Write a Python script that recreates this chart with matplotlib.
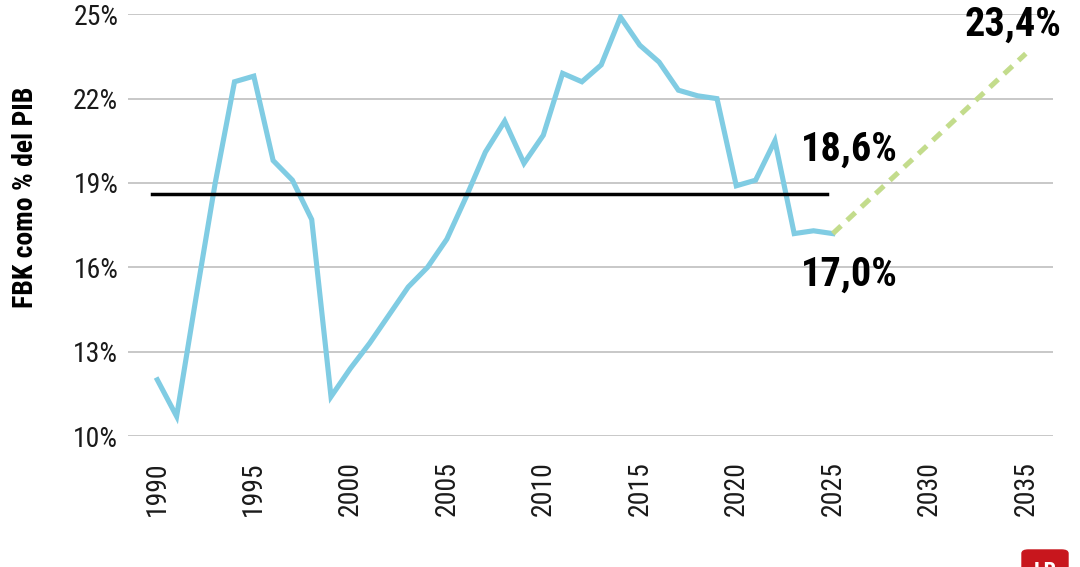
import matplotlib
matplotlib.use('Agg')
from matplotlib import pyplot as plt
from matplotlib.patches import FancyBboxPatch

# datos
years = list(range(1990, 2026))
fbk = [12.0, 10.7, 14.9, 19.0, 22.6, 22.8, 19.8, 19.1, 17.7, 11.4,
       12.4, 13.3, 14.3, 15.3, 16.0, 17.0, 18.5, 20.1, 21.2, 19.7,
       20.7, 22.9, 22.6, 23.2, 24.9, 23.9, 23.3, 22.3, 22.1, 22.0,
       18.9, 19.1, 20.5, 17.2, 17.3, 17.2]
proj_years = [2025, 2035]
proj_vals = [17.2, 23.6]
avg_years = [1989.75, 2024.7]
avg_val = 18.6
y_ticks = [10, 13, 16, 19, 22, 25]
x_ticks = [1990, 1995, 2000, 2005, 2010, 2015, 2020, 2025, 2030, 2035]
labels = ['18,6%', '17,0%', '23,4%']
label_pos = [(2023.34, 19.78), (2023.34, 15.33), (2031.84, 24.23)]

plt.rcParams['font.family'] = ['Roboto Condensed', 'DejaVu Sans']
plt.rcParams['font.stretch'] = 'condensed'

fig = plt.figure(figsize=(10.8, 5.67), dpi=100)
ax = fig.add_axes([0.1185, 0.231, 0.8565, 0.7438])

for t in y_ticks:
    ax.axhline(t, color='#c4c4c4', lw=1.3, zorder=1)

ax.plot(years, fbk, color='#80cce3', lw=3.7, solid_joinstyle='miter', zorder=3)
ax.plot(avg_years, [avg_val, avg_val], color='black', lw=2.5, zorder=4)
ax.plot(proj_years, proj_vals, color='#c3dc8c', lw=3.7, dashes=(2.2, 1.6), zorder=3)

for i in range(len(labels)):
    ax.text(label_pos[i][0], label_pos[i][1], labels[i], fontsize=29,
            fontweight='bold', ha='left', va='baseline', color='black',
            zorder=5, clip_on=False)

ax.set_xlim(1988.48, 2036.41)
ax.set_ylim(10, 25)
ax.set_yticks(y_ticks)
ax.set_yticklabels([str(t) + '%' for t in y_ticks], fontsize=20, color='#1a1a1a')
ax.set_xticks(x_ticks)
ax.set_xticklabels([str(t) for t in x_ticks], fontsize=20, rotation=90, color='#1a1a1a')
ax.tick_params(axis='y', length=0, pad=7)
ax.tick_params(axis='x', length=0, pad=18)
for s in ax.spines.values():
    s.set_visible(False)

fig.text(25.5 / 1080, 1 - 197 / 567, 'FBK como % del PIB', rotation=90,
         fontsize=20, fontweight='bold', ha='center', va='center')

# logo
logo = FancyBboxPatch((1022 / 1080, -0.03), 46 / 1080, 0.06,
                      boxstyle='round,pad=0,rounding_size=0.006',
                      transform=fig.transFigure, color='#c8161d', zorder=10)
fig.patches.append(logo)
fig.text(1045 / 1080, 1 - 561 / 567, 'LR', color='white', fontsize=16,
         fontweight='bold', ha='center', va='top', zorder=11)

fig.savefig('out.png', dpi=100)
